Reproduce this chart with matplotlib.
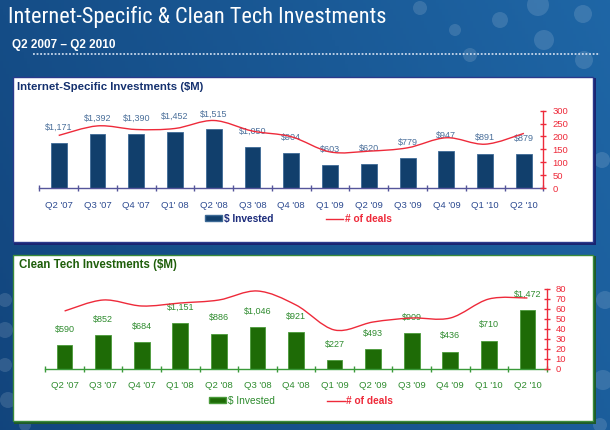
import numpy as np
import matplotlib
matplotlib.use("Agg")
import matplotlib.pyplot as plt
from matplotlib import font_manager
from matplotlib.font_manager import FontProperties
from matplotlib.patches import Rectangle, Circle, PathPatch
from matplotlib.path import Path
from matplotlib.lines import Line2D

# ---------------- data ----------------
quarters_top = ["Q2 '07", "Q3 '07", "Q4 '07", "Q1' 08", "Q2 '08", "Q3 '08", "Q4 '08",
                "Q1 '09", "Q2 '09", "Q3 '09", "Q4 '09", "Q1 '10", "Q2 '10"]
quarters_bot = ["Q2 '07", "Q3 '07", "Q4 '07", "Q1 '08", "Q2 '08", "Q3 '08", "Q4 '08",
                "Q1 '09", "Q2 '09", "Q3 '09", "Q4 '09", "Q1 '10", "Q2 '10"]
internet_invested = [1171, 1392, 1390, 1452, 1515, 1050, 904, 603, 620, 779, 947, 891, 879]
internet_deals = [204, 241, 227, 231, 262, 221, 199, 140, 143, 156, 195, 170, 212]
clean_invested = [590, 852, 684, 1151, 886, 1046, 921, 227, 493, 909, 436, 710, 1472]
clean_deals = [58, 69, 63, 66, 69, 78, 64, 39, 47, 51, 51, 70, 71]
deal_ticks_top = [0, 50, 100, 150, 200, 250, 300]
deal_ticks_bot = [0, 10, 20, 30, 40, 50, 60, 70, 80]

names = {f.name for f in font_manager.fontManager.ttflist}
base_font = "Liberation Sans" if "Liberation Sans" in names else "DejaVu Sans"
plt.rcParams['font.family'] = [base_font, 'DejaVu Sans']

# look for a condensed sans face for the big title
cond_file = None
prefs = ["LiberationSansNarrow-Regular", "RobotoCondensed-Regular", "OpenSans_Condensed-Regular",
         "OpenSansCondensed", "DejaVuSansCondensed.ttf"]
all_files = [f.fname for f in font_manager.fontManager.ttflist]
for p in prefs:
    for fn in all_files:
        if p in fn:
            cond_file = fn
            break
    if cond_file:
        break

W, H = 610, 430
fig = plt.figure(figsize=(W / 100, H / 100), dpi=100)

# ---------------- background ----------------
bg = fig.add_axes([0, 0, 1, 1], zorder=-10)
bg.set_xlim(0, W); bg.set_ylim(H, 0); bg.axis('off')
gx = np.linspace(0, 1, 200)
gy = np.linspace(0, 1, 140)
GX, GY = np.meshgrid(gx, gy)
t = np.clip(0.75 * GX + 0.25 * (1 - GY), 0, 1)
c0 = np.array([0.07, 0.27, 0.49])
c1 = np.array([0.12, 0.40, 0.65])
img = c0[None, None, :] * (1 - t[..., None]) + c1[None, None, :] * t[..., None]
bg.imshow(img, extent=[0, W, H, 0], aspect='auto', zorder=0)
circles = [(538, 5, 11), (583, 14, 9), (544, 40, 10), (584, 60, 9), (500, 20, 8), (470, 55, 7),
           (420, 8, 7), (455, 30, 6), (5, 300, 7), (5, 330, 8), (5, 365, 7), (8, 400, 8),
           (605, 300, 9), (603, 380, 10), (602, 160, 8), (25, 425, 6), (600, 425, 7)]
for cx, cy, r in circles:
    bg.add_patch(Circle((cx, cy), r, color='white', alpha=0.13, lw=0, zorder=1))

# title
if cond_file:
    tprop = FontProperties(fname=cond_file, size=16)
else:
    tprop = FontProperties(family=[base_font, 'DejaVu Sans'], size=14.3)
fig.text(8 / W, 1 - 17 / H, "Internet-Specific & Clean Tech Investments", color='white',
         fontproperties=tprop, va='center', ha='left')
fig.text(12 / W, 1 - 45 / H, "Q2 2007 \u2013 Q2 2010", color='white', fontsize=8.5,
         fontweight='bold', va='center', ha='left')
bg.plot([33, 600], [53.5, 53.5], color='#c8d8ec', lw=1.3, ls=(0, (1, 1)), zorder=2)

# panels
def panel(y0, y1, border, shadow):
    bg.add_patch(Rectangle((14, y0 + 1), 582, y1 - y0 + 2, color=shadow, lw=0, zorder=3))
    bg.add_patch(Rectangle((13, y0), 580, y1 - y0, facecolor='white', edgecolor=border,
                           lw=1.0, zorder=4))

panel(77, 242, '#2a3a8c', '#1a2470')
panel(255, 421, '#3a8a3a', '#1e5a2a')

fig.text(17 / W, 1 - 87 / H, "Internet-Specific Investments ($M)", color='#14306e',
         fontsize=8.2, fontweight='bold', va='center', ha='left')
fig.text(19 / W, 1 - 265 / H, "Clean Tech Investments ($M)", color='#1e5e0a',
         fontsize=8.3, fontweight='bold', va='center', ha='left')


def smooth_path(xs, ys):
    pts = np.column_stack([xs, ys]).astype(float)
    n = len(pts)
    verts = [pts[0]]
    codes = [Path.MOVETO]
    for i in range(n - 1):
        p0 = pts[i - 1] if i > 0 else pts[i]
        p1 = pts[i]
        p2 = pts[i + 1]
        p3 = pts[i + 2] if i + 2 < n else pts[i + 1]
        c1 = p1 + (p2 - p0) / 6.0
        c2 = p2 - (p3 - p1) / 6.0
        verts += [c1, c2, p2]
        codes += [Path.CURVE4] * 3
    return Path(verts, codes)


def chart(rect, labels, invested, deals, dticks, dmax, bar_col, bar_edge, tick_col,
          lab_col, spine_col, leg_text_col, leg_y, leg_x, leg_bold):
    ax = fig.add_axes(rect)
    x = np.arange(len(labels))
    ax.bar(x, invested, width=0.41, color=bar_col, edgecolor=bar_edge, lw=0.6, zorder=2)
    ax.set_xlim(-0.5, len(labels) - 0.5)
    ax.set_ylim(0, 2000)
    ax.patch.set_alpha(0)
    for s in ['top', 'left', 'right']:
        ax.spines[s].set_visible(False)
    ax.spines['bottom'].set_color(spine_col)
    ax.spines['bottom'].set_linewidth(1.0)
    ax.set_yticks([])
    ax.set_xticks(x)
    ax.set_xticklabels(labels, color=tick_col, fontsize=6.8)
    ax.tick_params(axis='x', which='major', length=0, pad=9)
    ax.set_xticks(np.arange(len(labels) + 1) - 0.5, minor=True)
    ax.tick_params(axis='x', which='minor', length=5, direction='inout', color=spine_col, width=1)
    for xi, v in zip(x, invested):
        ax.annotate(f"${v:,}", (xi, v), xytext=(0, 8), textcoords='offset points',
                    ha='center', va='bottom', fontsize=6.5, color=lab_col, zorder=3)
    ax2 = ax.twinx()
    ax2.set_ylim(0, dmax)
    ax2.set_yticks(dticks)
    ax2.set_yticklabels([str(d) for d in dticks], color='#ee2a3a', fontsize=6.8)
    ax2.tick_params(axis='y', length=5, direction='inout', color='#ee2a3a', width=1, pad=4)
    for s in ['top', 'left', 'bottom']:
        ax2.spines[s].set_visible(False)
    ax2.spines['right'].set_color('#ee2a3a')
    ax2.spines['right'].set_linewidth(1.0)
    path = smooth_path(x, deals)
    ax2.add_patch(PathPatch(path, facecolor='none', edgecolor='#ee2a3a', lw=1.0, zorder=4))
    handles = [Rectangle((0, 0), 1, 1, facecolor=bar_col, edgecolor=bar_edge),
               Line2D([], [], color='#ee2a3a', lw=1.0)]
    leg = fig.legend(handles, ["$ Invested", "# of deals"], ncol=2, frameon=False,
                     loc='center left', bbox_to_anchor=(leg_x / W, 1 - leg_y / H),
                     handlelength=1.7, handleheight=0.55, handletextpad=0.15,
                     columnspacing=5.2, borderpad=0, borderaxespad=0,
                     prop={'size': 7.3, 'weight': 'bold' if leg_bold else 'normal'})
    leg.get_texts()[0].set_color(leg_text_col)
    leg.get_texts()[1].set_color('#ee2a3a')
    leg.get_texts()[1].set_fontweight('bold')
    return ax, ax2


chart([39.3 / W, 1 - 188 / H, 504 / W, 77.3 / H], quarters_top, internet_invested,
      internet_deals, deal_ticks_top, 300, '#113f6c', '#3d6a96', '#2c4a90', '#4a6f9a',
      '#55559a', '#1a2a7a', 219, 205, True)
chart([45.3 / W, 1 - 369 / H, 501.4 / W, 80 / H], quarters_bot, clean_invested,
      clean_deals, deal_ticks_bot, 80, '#1e6b06', '#4a9a3a', '#2e8b2e', '#2e8b2e',
      '#3a9a3a', '#2e8b2e', 401, 209, False)

fig.savefig("out.png", dpi=100)
